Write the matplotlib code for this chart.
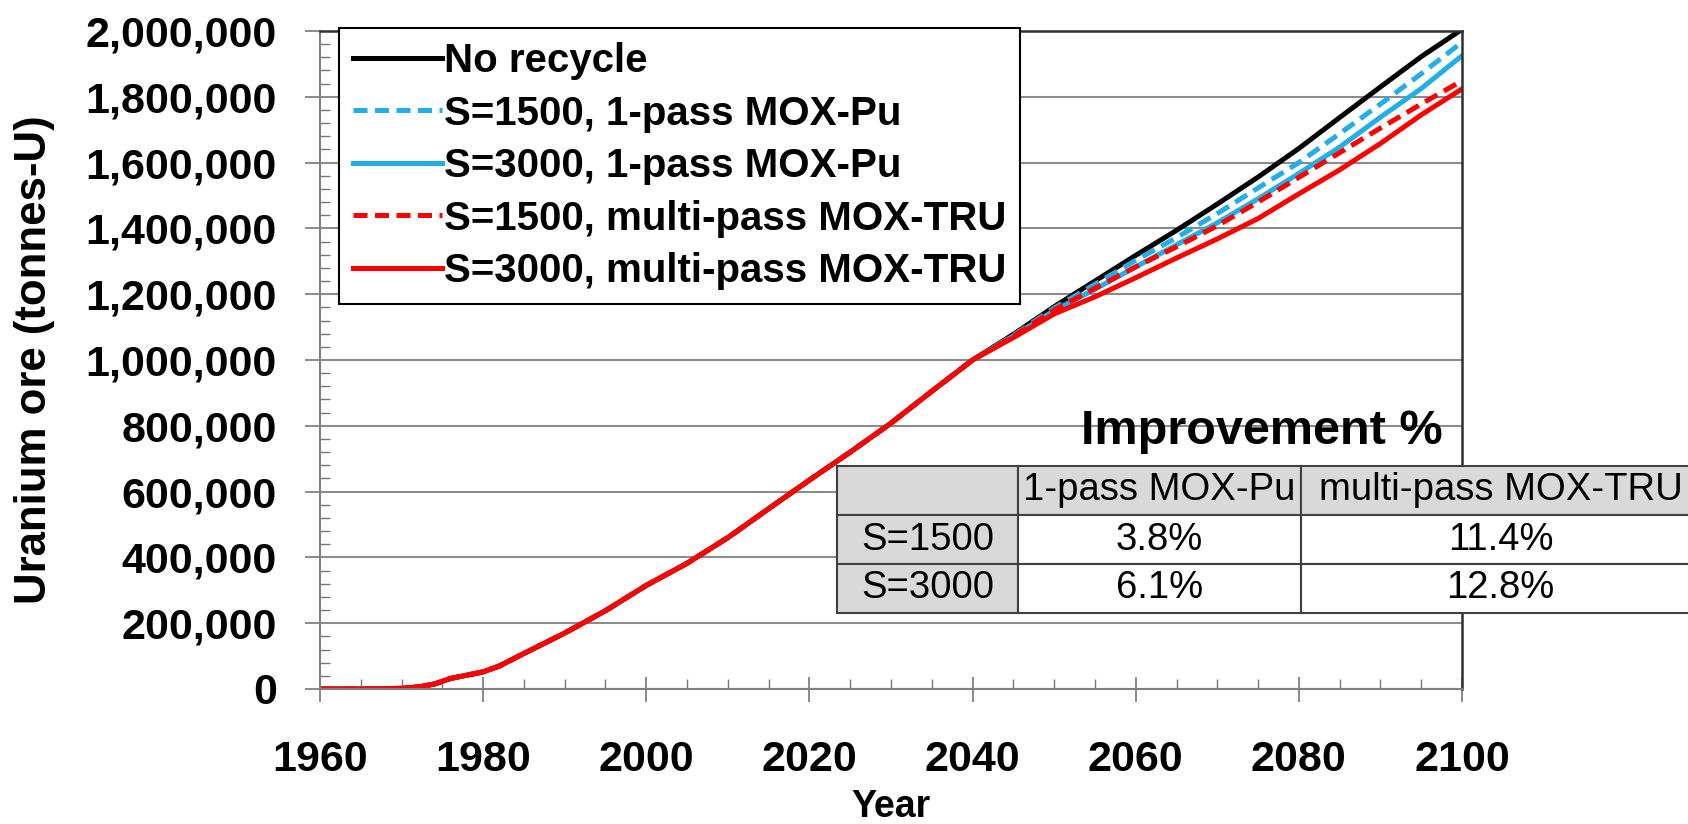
import matplotlib
matplotlib.use("Agg")
import matplotlib.pyplot as plt
from matplotlib.ticker import MultipleLocator, FuncFormatter

plt.rcParams['font.family'] = ['Liberation Sans', 'DejaVu Sans']
plt.rcParams['font.weight'] = 'bold'
plt.rcParams['axes.labelweight'] = 'bold'

#======================
# Data
#======================

years = [1960, 1965, 1970, 1972, 1974, 1976, 1978, 1980, 1982, 1985, 1990, 1995,
         2000, 2005, 2010, 2015, 2020, 2025, 2030, 2035, 2040,
         2045, 2050, 2055, 2060, 2065, 2070, 2075, 2080, 2085, 2090, 2095, 2100]

# all scenarios share history up to 2040
common = [0, 0, 2000, 6000, 15000, 32000, 42000, 52000, 70000, 108000, 170000, 238000,
          315000, 382000, 460000, 548000, 635000, 720000, 808000, 905000, 1000000]

no_recycle = common + [1078000, 1162000, 1240000, 1318000, 1394000, 1474000,
                       1556000, 1643000, 1737000, 1830000, 1922000, 2005000]
s1500_pu = common + [1075000, 1158000, 1230000, 1303000, 1372000, 1445000,
                     1523000, 1600000, 1688000, 1778000, 1870000, 1966000]
s3000_pu = common + [1073000, 1150000, 1215000, 1283000, 1350000, 1417000,
                     1490000, 1567000, 1647000, 1738000, 1825000, 1925000]
s1500_tru = common + [1072000, 1152000, 1218000, 1283000, 1344000, 1408000,
                      1480000, 1555000, 1630000, 1705000, 1778000, 1849000]
s3000_tru = common + [1068000, 1140000, 1192000, 1250000, 1310000, 1368000,
                      1430000, 1505000, 1578000, 1658000, 1745000, 1824000]

labels = ["No recycle", "S=1500, 1-pass MOX-Pu", "S=3000, 1-pass MOX-Pu",
          "S=1500, multi-pass MOX-TRU", "S=3000, multi-pass MOX-TRU"]

table_cols = ["", "1-pass MOX-Pu", "multi-pass MOX-TRU"]
table_rows = ["S=1500", "S=3000"]
table_vals = [["3.8%", "11.4%"], ["6.1%", "12.8%"]]

#======================
# Figure
#======================

W, H = 1688, 824
fig = plt.figure(figsize=(W/100, H/100), dpi=100)
ax = fig.add_axes([320/W, 1-689/H, 1142/W, 658/H])

blue = "#22aee6"
red = "#ff0000"
dash = (0, (2.8, 1.5))
series = [
    (no_recycle, "black", "-"),
    (s1500_pu, blue, dash),
    (s3000_pu, blue, "-"),
    (s1500_tru, red, dash),
    (s3000_tru, red, "-"),
]
for (vals, col, ls), lab in zip(series, labels):
    ax.plot(years, vals, color=col, linestyle=ls, lw=3.6, label=lab)

ax.set_xlim(1960, 2100)
ax.set_ylim(0, 2000000)
ax.xaxis.set_major_locator(MultipleLocator(20))
ax.xaxis.set_minor_locator(MultipleLocator(5))
ax.yaxis.set_major_locator(MultipleLocator(200000))
ax.yaxis.set_minor_locator(MultipleLocator(40000))
ax.yaxis.set_major_formatter(FuncFormatter(lambda v, p: f"{v:,.0f}"))

ax.tick_params(axis="x", which="major", direction="inout", length=18, width=1.2,
               color="#777777", labelsize=31, pad=28)
ax.tick_params(axis="x", which="minor", direction="in", length=7, width=1.0, color="#777777")
ax.tick_params(axis="y", which="major", direction="out", length=11, width=1.2,
               color="#777777", labelsize=31, pad=20)
ax.tick_params(axis="y", which="minor", direction="in", length=7, width=1.0, color="#777777")

ax.grid(axis="y", which="major", color="#8c8c8c", lw=1.5)
for s in ["left", "bottom"]:
    ax.spines[s].set_color("#808080")
    ax.spines[s].set_linewidth(1.5)
for s in ["top", "right"]:
    ax.spines[s].set_color("#303030")
    ax.spines[s].set_linewidth(1.8)

ax.set_xlabel("Year", fontsize=27)
ax.xaxis.set_label_coords(0.5, -0.152)
ax.set_ylabel("Uranium ore (tonnes-U)", fontsize=31.5)
ax.yaxis.set_label_coords(-0.232, 0.5)

leg = ax.legend(loc="upper left", bbox_to_anchor=(339/W, 1-28/H), bbox_transform=fig.transFigure,
                prop={"weight": "bold", "size": 29}, frameon=True, fancybox=False,
                edgecolor="black", framealpha=1, handlelength=2.2, handletextpad=0.05,
                borderpad=0.35, labelspacing=0.36, borderaxespad=0)
leg.get_frame().set_linewidth(1.5)

#======================
# Improvement table
#======================

fig.text(1262/W, 1-444/H, "Improvement %", ha="center", va="baseline", fontsize=35)

cell_text = [table_cols] + [[r] + v for r, v in zip(table_rows, table_vals)]
tbl = ax.table(cellText=cell_text, cellLoc="center",
               colWidths=[181/863, 283/863, 399/863],
               bbox=[(837-320)/1142, (689-613)/658, 863/1142, (613-466)/658])
tbl.auto_set_font_size(False)
tbl.set_fontsize(27.5)
tbl.set_zorder(5)
for (r, c), cell in tbl.get_celld().items():
    cell.set_facecolor("#d9d9d9" if r == 0 or c == 0 else "white")
    cell.set_edgecolor("#404040")
    cell.set_linewidth(1.5)
    cell.get_text().set_fontweight("normal")

fig.savefig("out.png", dpi=100)
